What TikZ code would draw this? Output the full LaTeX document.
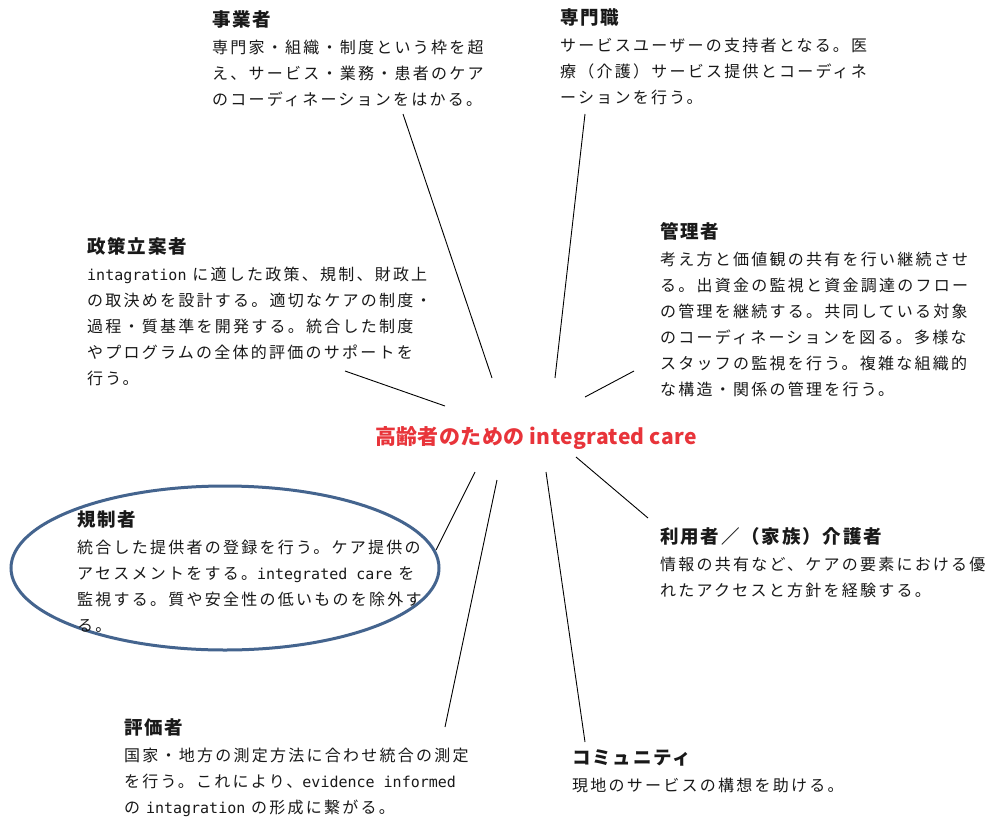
\documentclass[tikz,border=0pt]{standalone}
\usepackage{fontspec}
\usetikzlibrary{shapes.geometric}
\newfontfamily\jpbody[LetterSpace=14]{Noto Sans CJK JP}
\newfontfamily\jphead[LetterSpace=10]{Noto Sans CJK JP}
\newfontfamily\jpcen[LetterSpace=2]{Noto Sans CJK JP}
\newfontfamily\latmono{DejaVu Sans Mono}
\newcommand\en[1]{{\latmono\fontsize{15}{26}\selectfont #1}}
\newcommand\hd[1]{{\jphead\bfseries\fontsize{18.5}{26}\selectfont #1}}
\definecolor{centred}{RGB}{232,52,58}
\definecolor{ellblue}{RGB}{68,100,142}
\tikzset{
  blk/.style={anchor=north west, inner sep=0pt, align=left,
    font=\jpbody\fontsize{16}{26}\selectfont, text=black!90},
  conn/.style={draw=black, line width=0.9pt},
  centre/.style={inner sep=0pt, font=\jpcen\bfseries\fontsize{21}{24}\selectfont, text=centred},
  regring/.style={draw=ellblue, line width=3pt, ellipse, inner sep=0pt}
}
\begin{document}
\begin{tikzpicture}[x=1pt,y=-1pt]
\useasboundingbox (0,0) rectangle (992,816);
\fill[white] (0,0) rectangle (992,816);

\node[centre] (core) at (536,438) {高齢者のための integrated care};

\node[blk] (jigyo) at (212,10) {\hd{事業者}\\[1pt]
専門家・組織・制度という枠を超\\
え、サービス・業務・患者のケア\\
のコーディネーションをはかる。};

\node[blk] (senmon) at (560,8) {\hd{専門職}\\[1pt]
サービスユーザーの支持者となる。医\\
療（介護）サービス提供とコーディネ\\
ーションを行う。};

\node[blk] (seisaku) at (87,237) {\hd{政策立案者}\\[1pt]
\en{intagration} に適した政策、規制、財政上\\
の取決めを設計する。適切なケアの制度・\\
過程・質基準を開発する。統合した制度\\
やプログラムの全体的評価のサポートを\\
行う。};

\node[blk] (kanri) at (660,222) {\hd{管理者}\\[1pt]
考え方と価値観の共有を行い継続させ\\
る。出資金の監視と資金調達のフロー\\
の管理を継続する。共同している対象\\
のコーディネーションを図る。多様な\\
スタッフの監視を行う。複雑な組織的\\
な構造・関係の管理を行う。};

\node[regring, minimum width=428pt, minimum height=164pt] (ring) at (225,568) {};
\node[blk] (kisei) at (77,510) {\hd{規制者}\\[1pt]
統合した提供者の登録を行う。ケア提供の\\
アセスメントをする。\en{integrated care} を\\
監視する。質や安全性の低いものを除外す\\
る。};

\node[blk] (riyou) at (660,527) {\hd{利用者／（家族）介護者}\\[1pt]
情報の共有など、ケアの要素における優\\
れたアクセスと方針を経験する。};

\node[blk] (hyouka) at (124,718) {\hd{評価者}\\[1pt]
国家・地方の測定方法に合わせ統合の測定\\
を行う。これにより、\en{evidence informed}\\
の \en{intagration} の形成に繋がる。};

\node[blk] (comm) at (572,750) {\hd{コミュニティ}\\[1pt]
現地のサービスの構想を助ける。};

% connector end points
\coordinate (a1) at (403,114); \coordinate (a2) at (492,378);
\coordinate (b1) at (585,114); \coordinate (b2) at (555,378);
\coordinate (c1) at (345,371); \coordinate (c2) at (445,406);
\coordinate (d1) at (634,371); \coordinate (d2) at (585,397);
\coordinate (e1) at (576,457); \coordinate (e2) at (648,518);
\coordinate (f1) at (475,472); \coordinate (f2) at (436,550);
\coordinate (g1) at (497,480); \coordinate (g2) at (445,727);
\coordinate (h1) at (546,472); \coordinate (h2) at (585,742);

\draw[conn] (a1) -- (a2);
\draw[conn] (b1) -- (b2);
\draw[conn] (c1) -- (c2);
\draw[conn] (d1) -- (d2);
\draw[conn] (e1) -- (e2);
\draw[conn] (f1) -- (f2);
\draw[conn] (g1) -- (g2);
\draw[conn] (h1) -- (h2);
\end{tikzpicture}
\end{document}
